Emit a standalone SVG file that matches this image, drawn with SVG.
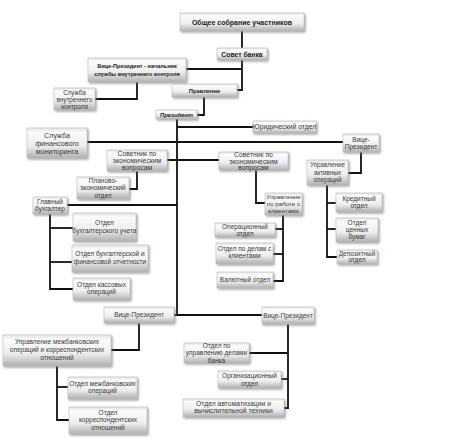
<svg xmlns="http://www.w3.org/2000/svg" width="474" height="441" viewBox="0 0 474 441">
<defs>
<linearGradient id="g" x1="0" y1="0" x2="0" y2="1">
<stop offset="0" stop-color="#e3e3e3"/>
<stop offset="0.15" stop-color="#fbfbfb"/>
<stop offset="0.6" stop-color="#ededed"/>
<stop offset="1" stop-color="#b0b0b0"/>
</linearGradient>
<filter id="sh" x="-10%" y="-20%" width="130%" height="160%">
<feDropShadow dx="1.3" dy="1.3" stdDeviation="0.8" flood-color="#777" flood-opacity="0.7"/>
</filter>
<style>
.b{fill:url(#g);stroke:#c0c0c0;stroke-width:0.6;filter:url(#sh)}
.t{font-family:"Liberation Sans",Arial,sans-serif;font-size:6.5px;fill:#3a3a3a;text-anchor:middle}
.tb{font-family:"Liberation Sans",Arial,sans-serif;font-weight:bold;fill:#222;text-anchor:middle}
.c{fill:none;stroke:#111;stroke-width:1.8}
</style>
</defs>
<rect width="474" height="441" fill="#fff"/>
<g id="connectors">
<polyline class="c" points="242,31 242,48"/>
<polyline class="c" points="242,60 242,90 237,90"/>
<polyline class="c" points="186,69 242,69"/>
<polyline class="c" points="137,82 137,99 95,99"/>
<polyline class="c" points="204,97 204,115 197,115"/>
<polyline class="c" points="177,119 177,315"/>
<polyline class="c" points="177,127 253,127"/>
<polyline class="c" points="87,142 343,142"/>
<polyline class="c" points="167,160 219,160"/>
<polyline class="c" points="137,171 137,189 129,189"/>
<polyline class="c" points="67,205 177,205"/>
<polyline class="c" points="50,214 50,289 73,289"/>
<polyline class="c" points="50,228 73,228"/>
<polyline class="c" points="50,262 72,262"/>
<polyline class="c" points="256,170 256,203 265,203"/>
<polyline class="c" points="283,215 283,281 273,281"/>
<polyline class="c" points="275,229 283,229"/>
<polyline class="c" points="273,254 283,254"/>
<polyline class="c" points="361,152 361,173 348,173"/>
<polyline class="c" points="327,185 327,257 337,257"/>
<polyline class="c" points="327,203 336,203"/>
<polyline class="c" points="327,229 336,229"/>
<polyline class="c" points="174,315 262,315"/>
<polyline class="c" points="139,323 139,350 111,350"/>
<polyline class="c" points="57,366 57,420 69,420"/>
<polyline class="c" points="57,387 68,387"/>
<polyline class="c" points="288,324 288,408 284,408"/>
<polyline class="c" points="249,353 288,353"/>
<polyline class="c" points="281,379 288,379"/>
</g>
<g id="n_obshee"><rect class="b" x="180" y="13" width="124" height="18"/><text class="tb" style="font-size:7px" x="242" y="24.5">Общее собрание участников</text></g>
<g id="n_sovet"><rect class="b" x="217" y="48" width="50" height="12"/><text class="tb" style="font-size:6.8px" x="242" y="56.5">Совет банка</text></g>
<g id="n_vp_vk"><rect class="b" x="88" y="58" width="98" height="24"/><text class="tb" style="font-size:5.6px" x="137" y="67.5">Вице-Президент - начальник</text><text class="tb" style="font-size:5.6px" x="137" y="75.5">службы внутреннего контроля</text></g>
<g id="n_sl_vk"><rect class="b" x="54" y="88" width="41" height="22"/><text class="t" style="font-size:6.3px" x="74.5" y="94.5">Служба</text><text class="t" style="font-size:6.3px" x="74.5" y="101.5">внутреннего</text><text class="t" style="font-size:6.3px" x="74.5" y="108.5">контроля</text></g>
<g id="n_pravlenie"><rect class="b" x="172" y="84" width="65" height="13"/><text class="tb" style="font-size:5.8px" x="204.5" y="92.6">Правление</text></g>
<g id="n_president"><rect class="b" x="156" y="110" width="41" height="9"/><text class="tb" style="font-size:5.8px;font-style:italic" x="176.5" y="116.7">Президент</text></g>
<g id="n_yur"><rect class="b" x="253" y="121" width="63" height="12"/><text class="t" style="font-size:6.8px" x="284.5" y="129.3">Юридический отдел</text></g>
<g id="n_vp_r1"><rect class="b" x="343" y="134" width="36" height="18"/><text class="t" x="361" y="141.5">Вице-</text><text class="t" x="361" y="149">Президент</text></g>
<g id="n_sfm"><rect class="b" x="27" y="128" width="60" height="30"/><text class="t" style="font-size:7.2px" x="57" y="137.5">Служба</text><text class="t" style="font-size:7.2px" x="57" y="145.5">финансового</text><text class="t" style="font-size:7.2px" x="57" y="153.5">мониторинга</text></g>
<g id="n_sov1"><rect class="b" x="107" y="150" width="60" height="21"/><text class="t" style="font-size:6.8px" x="137" y="156">Советник по</text><text class="t" style="font-size:6.8px" x="137" y="163">экономическим</text><text class="t" style="font-size:6.8px" x="137" y="170">вопросам</text></g>
<g id="n_sov2"><rect class="b" x="219" y="152" width="69" height="18"/><text class="t" style="font-size:6.8px" x="253.5" y="156.8">Советник по</text><text class="t" style="font-size:6.8px" x="253.5" y="163.6">экономическим</text><text class="t" style="font-size:6.8px" x="253.5" y="170.4">вопросам</text></g>
<g id="n_plan"><rect class="b" x="77" y="177" width="52" height="22"/><text class="t" x="103" y="183">Планово-</text><text class="t" x="103" y="190.3">экономический</text><text class="t" x="103" y="197.6">отдел</text></g>
<g id="n_uak"><rect class="b" x="307" y="160" width="41" height="25"/><text class="t" style="font-size:6.3px" x="327.5" y="167">Управление</text><text class="t" style="font-size:6.3px" x="327.5" y="174.5">активных</text><text class="t" style="font-size:6.3px" x="327.5" y="182">операций</text></g>
<g id="n_upk"><rect class="b" x="265" y="193" width="37" height="22"/><text class="t" style="font-size:6.2px" x="283.5" y="199">Управление</text><text class="t" style="font-size:6.2px" x="283.5" y="206">по работе с</text><text class="t" style="font-size:6.2px" x="283.5" y="213">клиентами</text></g>
<g id="n_glb"><rect class="b" x="33" y="197" width="34" height="17"/><text class="t" x="50" y="204">Главный</text><text class="t" x="50" y="211.3">бухгалтер</text></g>
<g id="n_kred"><rect class="b" x="336" y="193" width="46" height="19"/><text class="t" x="359" y="200.5">Кредитный</text><text class="t" x="359" y="208.3">отдел</text></g>
<g id="n_cb"><rect class="b" x="336" y="218" width="42" height="24"/><text class="t" x="357" y="224.5">Отдел</text><text class="t" x="357" y="231.8">ценных</text><text class="t" x="357" y="239">бумаг</text></g>
<g id="n_dep"><rect class="b" x="337" y="250" width="40" height="14"/><text class="t" x="357" y="255.5">Депозитный</text><text class="t" x="357" y="262.3">отдел</text></g>
<g id="n_oper"><rect class="b" x="215" y="223" width="60" height="14"/><text class="t" x="245" y="229">Операционный</text><text class="t" x="245" y="236.2">отдел</text></g>
<g id="n_delk"><rect class="b" x="216" y="243" width="57" height="21"/><text class="t" x="244.5" y="251">Отдел по делам с</text><text class="t" x="244.5" y="258.3">клиентами</text></g>
<g id="n_val"><rect class="b" x="217" y="272" width="56" height="16"/><text class="t" x="245" y="282.2">Валютный отдел</text></g>
<g id="n_obu"><rect class="b" x="73" y="213" width="63" height="28"/><text class="t" x="104.5" y="225">Отдел</text><text class="t" x="104.5" y="233.3">бухгалтерского учета</text></g>
<g id="n_obfo"><rect class="b" x="72" y="245" width="76" height="27"/><text class="t" x="110" y="256">Отдел бухгалтерской и</text><text class="t" x="110" y="264.3">финансовой отчетности</text></g>
<g id="n_oko"><rect class="b" x="73" y="278" width="57" height="22"/><text class="t" x="101.5" y="286.5">Отдел кассовых</text><text class="t" x="101.5" y="294.3">операций</text></g>
<g id="n_vp_l"><rect class="b" x="104" y="307" width="70" height="16"/><text class="t" x="139" y="317.2">Вице-Президент</text></g>
<g id="n_vp_r2"><rect class="b" x="262" y="307" width="52" height="17"/><text class="t" x="288" y="317.6">Вице-Президент</text></g>
<g id="n_umb"><rect class="b" x="3" y="335" width="108" height="31"/><text class="t" x="57" y="344">Управление межбанковских</text><text class="t" x="57" y="352.2">операций и корреспондентских</text><text class="t" x="57" y="360.4">отношений</text></g>
<g id="n_omo"><rect class="b" x="68" y="377" width="69" height="22"/><text class="t" x="102.5" y="385.5">Отдел межбанковских</text><text class="t" x="102.5" y="393.3">операций</text></g>
<g id="n_okor"><rect class="b" x="69" y="407" width="78" height="27"/><text class="t" x="108" y="414.5">Отдел</text><text class="t" x="108" y="422.3">корреспондентских</text><text class="t" x="108" y="430.1">отношений</text></g>
<g id="n_oud"><rect class="b" x="184" y="343" width="65" height="20"/><text class="t" x="216.5" y="347.5">Отдел по</text><text class="t" x="216.5" y="355.2">управлению делами</text><text class="t" x="216.5" y="362.9">банка</text></g>
<g id="n_org"><rect class="b" x="218" y="371" width="63" height="17"/><text class="t" x="249.5" y="378">Организационный</text><text class="t" x="249.5" y="386">отдел</text></g>
<g id="n_oavt"><rect class="b" x="183" y="399" width="101" height="18"/><text class="t" style="font-size:6.8px" x="233.5" y="405.7">Отдел автоматизации и</text><text class="t" style="font-size:6.8px" x="233.5" y="413.3">вычислительной техники</text></g>
</svg>
